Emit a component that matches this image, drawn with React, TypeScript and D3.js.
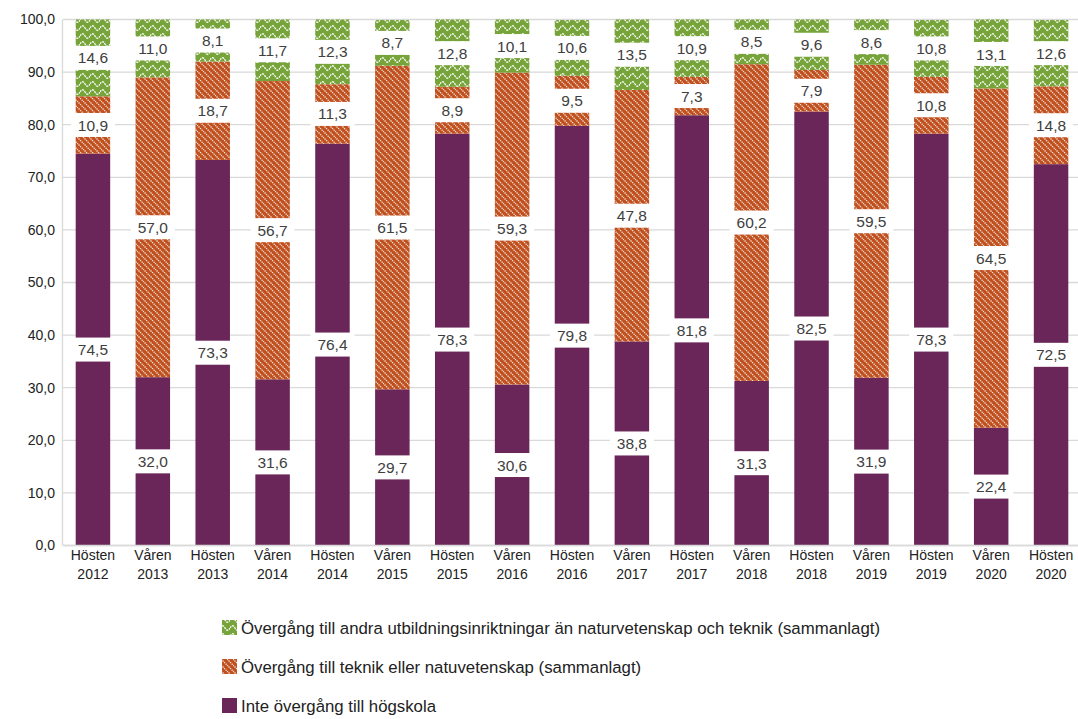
import React from "react";
import * as d3 from "d3";

const categories = [
  "Hösten 2012", "Våren 2013", "Hösten 2013", "Våren 2014", "Hösten 2014", "Våren 2015",
  "Hösten 2015", "Våren 2016", "Hösten 2016", "Våren 2017", "Hösten 2017", "Våren 2018",
  "Hösten 2018", "Våren 2019", "Hösten 2019", "Våren 2020", "Hösten 2020",
];
const inteOvergang = [74.5, 32.0, 73.3, 31.6, 76.4, 29.7, 78.3, 30.6, 79.8, 38.8, 81.8, 31.3, 82.5, 31.9, 78.3, 22.4, 72.5];
const teknikNatur = [10.9, 57.0, 18.7, 56.7, 11.3, 61.5, 8.9, 59.3, 9.5, 47.8, 7.3, 60.2, 7.9, 59.5, 10.8, 64.5, 14.8];
const andraUtb = [14.6, 11.0, 8.1, 11.7, 12.3, 8.7, 12.8, 10.1, 10.6, 13.5, 10.9, 8.5, 9.6, 8.6, 10.8, 13.1, 12.6];
const yTicks = [0, 10, 20, 30, 40, 50, 60, 70, 80, 90, 100];

const seriesNames = [
  "Inte övergång till högskola",
  "Övergång till teknik eller natuvetenskap (sammanlagt)",
  "Övergång till andra utbildningsinriktningar än naturvetenskap och teknik (sammanlagt)",
];
const seriesFills = ["#6a2659", "url(#patOrange)", "url(#patGreen)"];

const W = 1078;
const H = 719;
const FONT = "'Liberation Sans', Arial, sans-serif";

export default function App() {
  const x = d3.scaleBand<string>().domain(categories).range([63, 1081]).paddingInner(0.424).paddingOuter(0.212);
  const y = d3.scaleLinear().domain([0, 100]).range([545.5, 19.5]);
  const fmt = (v: number) => v.toFixed(1).replace(".", ",");

  const rows = categories.map((c, i) => ({
    cat: c,
    s0: inteOvergang[i],
    s1: teknikNatur[i],
    s2: andraUtb[i],
  }));
  const stack = d3.stack<any>().keys(["s0", "s1", "s2"])(rows);

  const legendOrder = [2, 1, 0];
  const legendY = [628, 667, 706];

  return (
    <svg width={W} height={H} style={{ position: "absolute", left: 0, top: 0, background: "#fff" }} fontFamily={FONT}>
      <defs>
        <pattern id="patGreen" patternUnits="userSpaceOnUse" width={10} height={8}>
          <rect width={10} height={8} fill="#77a43a" />
          <path d="M0 4 Q2.5 -0.5 5 4 T10 4" fill="none" stroke="#ffffff" strokeWidth={1.3} strokeDasharray="2.2 0.8" opacity={0.9} />
        </pattern>
        <pattern id="patOrange" patternUnits="userSpaceOnUse" width={6} height={6}>
          <rect width={6} height={6} fill="#c1501f" />
          <path d="M-1 -1 L7 7 M-1 5 L1 7 M5 -1 L7 1" fill="none" stroke="#ffffff" strokeWidth={1.3} strokeDasharray="1.3 0.9" opacity={0.85} />
        </pattern>
      </defs>

      {/* gridlines */}
      {yTicks.map((t) => (
        <line key={"g" + t} x1={63} x2={W} y1={y(t)} y2={y(t)} stroke="#d9d9d9" strokeWidth={1.3} />
      ))}
      <line x1={62.5} x2={62.5} y1={y(100)} y2={y(0)} stroke="#d9d9d9" strokeWidth={1.3} />
      {yTicks.map((t) => (
        <text key={"t" + t} x={55} y={y(t)} dy="0.35em" textAnchor="end" fontSize={14} fill="#222">
          {fmt(t)}
        </text>
      ))}

      {/* bars */}
      {stack.map((layer, si) => (
        <g key={"s" + si}>
          {layer.map((d: any, i: number) => (
            <rect
              key={i}
              x={x(categories[i])}
              width={x.bandwidth()}
              y={y(Math.min(100, d[1]))}
              height={y(d[0]) - y(Math.min(100, d[1]))}
              fill={seriesFills[si]}
            />
          ))}
        </g>
      ))}

      {/* data labels */}
      {stack.map((layer, si) => (
        <g key={"l" + si}>
          {layer.map((d: any, i: number) => {
            const cx = (x(categories[i]) as number) + x.bandwidth() / 2;
            const cy = y((d[0] + Math.min(100, d[1])) / 2);
            const label = fmt(d[1] - d[0]);
            const bw = label.length * 8 + 12;
            return (
              <g key={i}>
                <rect x={cx - bw / 2} y={cy - 12} width={bw} height={24} fill="#fff" />
                <text x={cx} y={cy} dy="0.36em" textAnchor="middle" fontSize={15.5} fill="#404040">
                  {label}
                </text>
              </g>
            );
          })}
        </g>
      ))}

      {/* x axis */}
      <line x1={63} x2={W} y1={y(0)} y2={y(0)} stroke="#d9d9d9" strokeWidth={1.3} />
      {categories.map((c) => {
        const cx = (x(c) as number) + x.bandwidth() / 2;
        const [a, b] = c.split(" ");
        return (
          <text key={c} x={cx} textAnchor="middle" fontSize={14} fill="#222">
            <tspan x={cx} y={560}>{a}</tspan>
            <tspan x={cx} y={579}>{b}</tspan>
          </text>
        );
      })}

      {/* legend */}
      {legendOrder.map((si, k) => (
        <g key={"lg" + si}>
          <rect x={222} y={legendY[k] - 8} width={15} height={15} fill={seriesFills[si]} />
          <text x={241} y={legendY[k]} dy="0.35em" fontSize={16.8} fill="#222">
            {seriesNames[si]}
          </text>
        </g>
      ))}
    </svg>
  );
}
